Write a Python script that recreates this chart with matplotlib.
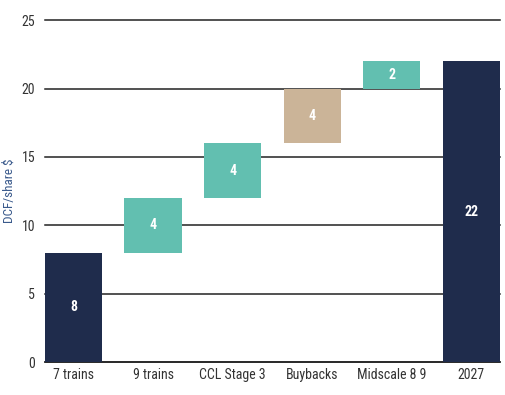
import matplotlib
matplotlib.use('Agg')
import matplotlib.pyplot as plt
from matplotlib import font_manager

categories = ['7 trains', '9 trains', 'CCL Stage 3', 'Buybacks', 'Midscale 8 9', '2027']
bottoms = [0, 8, 12, 16, 20, 0]
heights = [8, 4, 4, 4, 2, 22]
labels = ['8', '4', '4', '4', '2', '22']
colors = ['#1f2c4c', '#62bfb0', '#62bfb0', '#cbb498', '#62bfb0', '#1f2c4c']
yticks = [0, 5, 10, 15, 20, 25]

# condensed face like the original, if one is installed
names = {f.name for f in font_manager.fontManager.ttflist}
fam = 'DejaVu Sans'
for cand in ['Roboto Condensed', 'Liberation Sans Narrow', 'Archivo Narrow', 'Barlow Semi Condensed']:
    if cand in names:
        fam = cand
        break
plt.rcParams['font.family'] = [fam, 'DejaVu Sans']

fig = plt.figure(figsize=(5.05, 3.95), dpi=100)
ax = fig.add_axes([0.089, 0.0835, 0.901, 0.8655])

x = range(len(categories))
ax.bar(x, heights, bottom=bottoms, width=0.72, color=colors, zorder=3)
for i in x:
    ax.text(i, bottoms[i] + heights[i] / 2, labels[i], ha='center', va='center',
            color='white', fontsize=10, fontweight='bold', zorder=4)

ax.set_xlim(-0.36, 5.36)
ax.set_ylim(0, 25)
ax.set_yticks(yticks)
ax.yaxis.grid(True, color='#222222', linewidth=1.1, zorder=0)
for gl in ax.get_ygridlines():
    gl.set_clip_on(False)
ax.set_axisbelow(True)
ax.set_xticks(list(x))
ax.set_xticklabels(categories)
ax.tick_params(axis='both', length=0, labelsize=10, colors='#333333', pad=4)
ax.tick_params(axis='y', pad=7)
for s in ['left', 'right', 'top']:
    ax.spines[s].set_visible(False)
ax.spines['bottom'].set_color('#222222')
ax.spines['bottom'].set_linewidth(1.1)
ax.set_ylabel('DCF/share $', color='#3a5a8c', fontsize=9.5, labelpad=4)

fig.savefig('out.png', dpi=100)
